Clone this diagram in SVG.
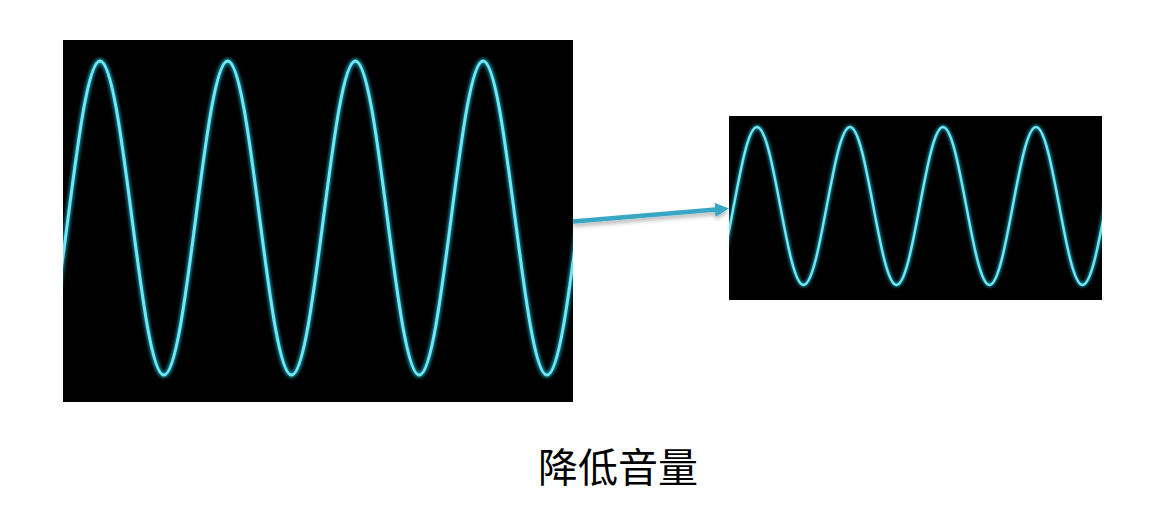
<svg xmlns="http://www.w3.org/2000/svg" width="1163" height="518" viewBox="0 0 1163 518">
  <style>
    .panel { fill: #000000; }
    .glow { fill: none; stroke: #1aa9c4; stroke-opacity: 0.7; stroke-linecap: round; stroke-linejoin: round; }
    .core { fill: none; stroke: #6fe8f6; stroke-linecap: round; stroke-linejoin: round; }
    .conn { stroke: #37a7c4; stroke-width: 4.5; fill: none; }
    .label { font-family: "Liberation Serif", "Noto Sans CJK SC", serif; font-size: 40px; fill: #000000; }
  </style>
  <defs>
    <clipPath id="clipL"><rect x="63" y="40" width="510" height="362"/></clipPath>
    <clipPath id="clipR"><rect x="729" y="116" width="373" height="184"/></clipPath>
    <filter id="blur" x="-10%" y="-10%" width="120%" height="120%">
      <feGaussianBlur stdDeviation="1.6"/>
    </filter>
    <filter id="shadow" x="-10%" y="-100%" width="120%" height="300%">
      <feDropShadow dx="0" dy="3" stdDeviation="2" flood-color="#000000" flood-opacity="0.3"/>
    </filter>
    <marker id="arrow" viewBox="0 0 14 14" refX="1" refY="7" markerWidth="14" markerHeight="14" markerUnits="userSpaceOnUse" orient="auto">
      <path d="M0,0 L14,7 L0,14 z" fill="#37a7c4"/>
    </marker>
  </defs>

  <g id="wave-large">
    <rect class="panel" x="63" y="40" width="510" height="362"/>
    <g clip-path="url(#clipL)">
      <path id="waveL" class="glow" stroke-width="6" filter="url(#blur)" d="M36.15,375 c11.554,0 21.514,-76.57 31.925,-157 s20.371,-157 31.925,-157 s21.514,76.57 31.925,157 s20.371,157 31.925,157 s21.514,-76.57 31.925,-157 s20.371,-157 31.925,-157 s21.514,76.57 31.925,157 s20.371,157 31.925,157 s21.514,-76.57 31.925,-157 s20.371,-157 31.925,-157 s21.514,76.57 31.925,157 s20.371,157 31.925,157 s21.514,-76.57 31.925,-157 s20.371,-157 31.925,-157 s21.514,76.57 31.925,157 s20.371,157 31.925,157 s21.514,-76.57 31.925,-157 s20.371,-157 31.925,-157 s21.514,76.57 31.925,157 s20.371,157 31.925,157 s21.514,-76.57 31.925,-157"/>
      <path class="core" stroke-width="3" d="M36.15,375 c11.554,0 21.514,-76.57 31.925,-157 s20.371,-157 31.925,-157 s21.514,76.57 31.925,157 s20.371,157 31.925,157 s21.514,-76.57 31.925,-157 s20.371,-157 31.925,-157 s21.514,76.57 31.925,157 s20.371,157 31.925,157 s21.514,-76.57 31.925,-157 s20.371,-157 31.925,-157 s21.514,76.57 31.925,157 s20.371,157 31.925,157 s21.514,-76.57 31.925,-157 s20.371,-157 31.925,-157 s21.514,76.57 31.925,157 s20.371,157 31.925,157 s21.514,-76.57 31.925,-157 s20.371,-157 31.925,-157 s21.514,76.57 31.925,157 s20.371,157 31.925,157 s21.514,-76.57 31.925,-157"/>
    </g>
  </g>

  <g id="wave-small">
    <rect class="panel" x="729" y="116" width="373" height="184"/>
    <g clip-path="url(#clipR)">
      <path class="glow" stroke-width="5" filter="url(#blur)" d="M710.5,285 c8.414,0 15.668,-38.53 23.25,-79 s14.836,-79 23.25,-79 s15.668,38.53 23.25,79 s14.836,79 23.25,79 s15.668,-38.53 23.25,-79 s14.836,-79 23.25,-79 s15.668,38.53 23.25,79 s14.836,79 23.25,79 s15.668,-38.53 23.25,-79 s14.836,-79 23.25,-79 s15.668,38.53 23.25,79 s14.836,79 23.25,79 s15.668,-38.53 23.25,-79 s14.836,-79 23.25,-79 s15.668,38.53 23.25,79 s14.836,79 23.25,79 s15.668,-38.53 23.25,-79 s14.836,-79 23.25,-79 s15.668,38.53 23.25,79 s14.836,79 23.25,79 s15.668,-38.53 23.25,-79"/>
      <path class="core" stroke-width="2.4" d="M710.5,285 c8.414,0 15.668,-38.53 23.25,-79 s14.836,-79 23.25,-79 s15.668,38.53 23.25,79 s14.836,79 23.25,79 s15.668,-38.53 23.25,-79 s14.836,-79 23.25,-79 s15.668,38.53 23.25,79 s14.836,79 23.25,79 s15.668,-38.53 23.25,-79 s14.836,-79 23.25,-79 s15.668,38.53 23.25,79 s14.836,79 23.25,79 s15.668,-38.53 23.25,-79 s14.836,-79 23.25,-79 s15.668,38.53 23.25,79 s14.836,79 23.25,79 s15.668,-38.53 23.25,-79 s14.836,-79 23.25,-79 s15.668,38.53 23.25,79 s14.836,79 23.25,79 s15.668,-38.53 23.25,-79"/>
    </g>
  </g>

  <g id="connectors">
    <line class="conn" x1="573" y1="221.5" x2="716" y2="209.6" marker-end="url(#arrow)" filter="url(#shadow)"/>
  </g>

  <g id="caption">
    <text class="label" x="618" y="482" text-anchor="middle">降低音量</text>
  </g>
</svg>
